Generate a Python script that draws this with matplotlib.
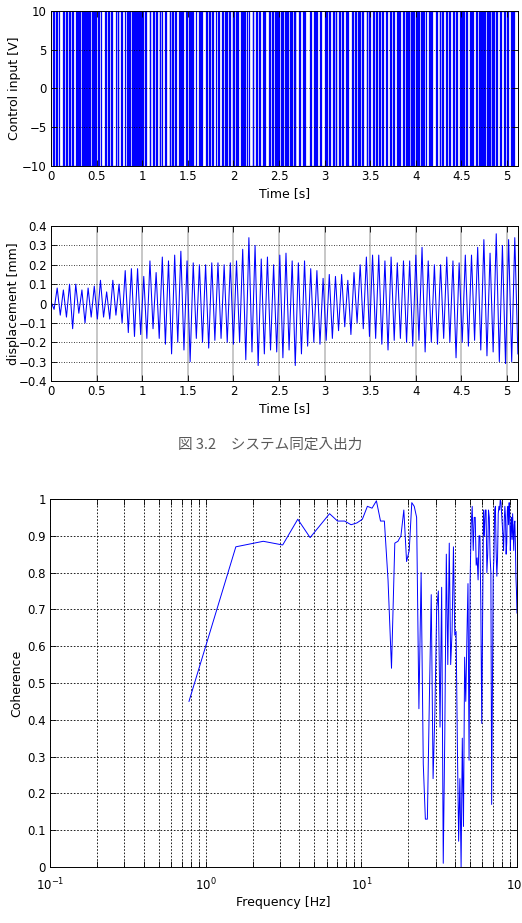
import numpy as np
import matplotlib
matplotlib.use("Agg")
import matplotlib.pyplot as plt
import matplotlib.ticker as ticker

plt.rcParams['font.family'] = ['DejaVu Sans', 'Noto Sans CJK JP']
plt.rcParams['axes.unicode_minus'] = True

# 制御入力 (PRBS): 反転間隔 [x0.01 s]
prbs_runs = ("2131241213121312" "1121111211121111" "3124131214213132"
             "1111211111121111" "2141312131231412" "1213112131211213"
             "3121412131321412" "1121311211312112" "2413121312412131"
             "1112113111211211" "4131251312131421" "2131213121312412"
             "1311214121312131" "2131412131213121" "1112111211131112"
             "3121413121312141" "2131211213121312" "1121112111211121"
             "3141213121512131")
prbs_unit = 0.01
prbs_amp = 10

# 変位 [mm] (極値点, 0.0339 s 間隔)
disp_dt = 0.0339
disp_vals = [
    0.01, -0.03, 0.08, -0.06, 0.07, -0.07, 0.10, -0.13, 0.10, -0.05,
    0.07, -0.10, 0.08, -0.07, 0.09, -0.08, 0.12, -0.07, 0.06, -0.08,
    0.12, -0.06, 0.10, -0.10,
    0.17, -0.15, 0.18, -0.17, 0.18, -0.16, 0.14, -0.18, 0.22, -0.13,
    0.16, -0.18, 0.24, -0.21, 0.22, -0.26, 0.25, -0.20, 0.27, -0.24,
    0.22, -0.30, 0.21, -0.18, 0.20, -0.20, 0.20, -0.23, 0.21, -0.19,
    0.21, -0.18, 0.20, -0.20, 0.21, -0.21, 0.22, -0.20, 0.28, -0.29,
    0.34, -0.25, 0.30, -0.32, 0.23, -0.26, 0.24, -0.24, 0.20, -0.25,
    0.25, -0.28, 0.26, -0.24, 0.22, -0.32, 0.21, -0.26, 0.22, -0.22,
    0.18, -0.20, 0.17, -0.21, 0.13, -0.19, 0.15, -0.18, 0.14, -0.14,
    0.15, -0.12, 0.12, -0.16, 0.16, -0.10, 0.20, -0.13, 0.24, -0.17,
    0.25, -0.18, 0.25, -0.21, 0.22, -0.24, 0.24, -0.19, 0.21, -0.18,
    0.22, -0.20, 0.22, -0.22, 0.25, -0.19, 0.29, -0.25, 0.22, -0.20,
    0.20, -0.21, 0.20, -0.18, 0.24, -0.20, 0.22, -0.28, 0.21, -0.20,
    0.25, -0.22, 0.25, -0.19, 0.29, -0.24, 0.33, -0.27, 0.26, -0.25,
    0.36, -0.30, 0.30, -0.31, 0.33, -0.30, 0.34, -0.26,
]

# コヒーレンス (df = 200/256 Hz)
coh_df = 200 / 256
coh_vals = [
    0.45, 0.87, 0.885, 0.875, 0.945, 0.895, 0.93, 0.96, 0.94, 0.94,
    0.93, 0.935, 0.945, 0.98, 0.975, 0.995, 0.94, 0.94, 0.78, 0.54,
    0.88, 0.885, 0.90, 0.97, 0.83, 0.86, 0.99, 0.98, 0.95, 0.43,
    0.80, 0.28, 0.13, 0.13, 0.45, 0.74, 0.24, 0.42, 0.70, 0.75,
    0.38, 0.76, 0.01, 0.36, 0.85, 0.55, 0.88, 0.55, 0.64, 0.87,
    0.63, 0.64, 0.33, 0.07, 0.24, 0.00, 0.35, 0.11, 0.57, 0.45,
    0.62, 0.77, 0.29, 0.78, 0.93, 0.98, 0.86, 0.95, 0.95, 0.82,
    0.84, 0.78, 0.90, 0.90, 0.70, 0.39, 0.69, 0.97, 0.90, 0.97,
    0.97, 0.80, 0.85, 0.97, 0.95, 0.84, 0.80, 0.17, 0.50, 0.79,
    0.84, 0.97, 0.98, 0.86, 0.79, 0.84, 0.96, 0.98, 0.97, 1.00,
    0.99, 0.96, 0.93, 0.90, 0.86, 0.94, 0.98, 0.95, 0.85, 0.88,
    0.97, 0.98, 0.93, 0.99, 0.96, 0.86, 0.92, 0.95, 0.89, 0.96,
    0.91, 0.86, 0.93, 0.94, 0.88, 0.79, 0.75, 0.69,
]

BLUE = '#0000ff'
FS = 9
TFS = 8.5


def style_axes(ax, pad=3):
    ax.tick_params(direction='in', length=4, width=0.6, top=True, right=True,
                   labelsize=TFS, which='both', pad=pad)
    for s in ax.spines.values():
        s.set_linewidth(0.7)


fig = plt.figure(figsize=(5.22, 9.23), dpi=100)

# 上段: 制御入力
ax1 = fig.add_axes([0.0977, 0.8202, 0.8946, 0.1679])
runs = np.array([int(c) for c in prbs_runs])
edges = np.concatenate([[0], np.cumsum(runs)]) * prbs_unit
levels = np.where(np.arange(len(runs)) % 2 == 0, prbs_amp, -prbs_amp)
ax1.stairs(levels, edges, baseline=None, color=BLUE, lw=0.9)
ax1.set_xlim(0, 5.12)
ax1.set_ylim(-10, 10)
ax1.set_xticks(np.arange(0, 5.01, 0.5))
ax1.xaxis.set_major_formatter(ticker.FuncFormatter(lambda v, p: f"{v:g}"))
ax1.set_yticks([-10, -5, 0, 5, 10])
ax1.grid(True, axis='y', color='k', ls=(0, (1, 2)), lw=0.6)
ax1.set_xlabel('Time [s]', fontsize=FS, labelpad=3)
ax1.set_ylabel('Control input [V]', fontsize=FS)
ax1.yaxis.set_label_coords(-0.064, 0.5)
style_axes(ax1)

# 中段: 変位
ax2 = fig.add_axes([0.0977, 0.5872, 0.8946, 0.1679])
t_disp = np.arange(len(disp_vals)) * disp_dt
ax2.plot(t_disp, disp_vals, color=BLUE, lw=0.75)
ax2.set_xlim(0, 5.12)
ax2.set_ylim(-0.4, 0.4)
ax2.set_xticks(np.arange(0, 5.01, 0.5))
ax2.xaxis.set_major_formatter(ticker.FuncFormatter(lambda v, p: f"{v:g}"))
ax2.set_yticks(np.arange(-0.4, 0.41, 0.1))
ax2.yaxis.set_major_formatter(ticker.FuncFormatter(
    lambda v, p: '0' if abs(v) < 1e-9 else f"{v:.1f}".replace('-', '\u2212')))
ax2.grid(True, axis='x', color='0.72', lw=1.1)
ax2.grid(True, axis='y', color='k', ls=(0, (1, 2)), lw=0.6)
ax2.set_xlabel('Time [s]', fontsize=FS, labelpad=3)
ax2.set_ylabel('displacement [mm]', fontsize=FS)
ax2.yaxis.set_label_coords(-0.066, 0.5)
style_axes(ax2)

fig.text(0.517, 0.518, '図 3.2\u3000システム同定入出力', ha='center', va='center',
         fontsize=10.5, color='0.35', family=['Noto Sans CJK JP', 'DejaVu Sans'])

# 下段: コヒーレンス
ax3 = fig.add_axes([0.0958, 0.0607, 0.8946, 0.3987])
f_coh = coh_df * np.arange(1, len(coh_vals) + 1)
ax3.semilogx(f_coh, coh_vals, color=BLUE, lw=0.7)
ax3.set_xlim(0.1, 100)
ax3.set_ylim(0, 1)
ax3.set_yticks(np.arange(0, 1.01, 0.1))
ax3.yaxis.set_major_formatter(ticker.FuncFormatter(
    lambda v, p: f"{v:.1f}" if 0.01 < v < 0.99 else f"{v:.0f}"))
ax3.xaxis.set_major_locator(ticker.LogLocator(base=10, numticks=10))
ax3.xaxis.set_minor_locator(ticker.LogLocator(base=10, subs=np.arange(2, 10), numticks=20))
ax3.xaxis.set_minor_formatter(ticker.NullFormatter())
ax3.grid(True, which='both', axis='x', color='k', ls=(0, (2, 2)), lw=0.6)
ax3.grid(True, axis='y', color='k', ls=(0, (2, 2)), lw=0.6)
ax3.set_xlabel('Frequency [Hz]', fontsize=FS, labelpad=2)
ax3.set_ylabel('Coherence', fontsize=FS)
ax3.yaxis.set_label_coords(-0.058, 0.5)
style_axes(ax3)
ax3.tick_params(axis='x', which='both', pad=7)

fig.savefig('out.png', dpi=100)
